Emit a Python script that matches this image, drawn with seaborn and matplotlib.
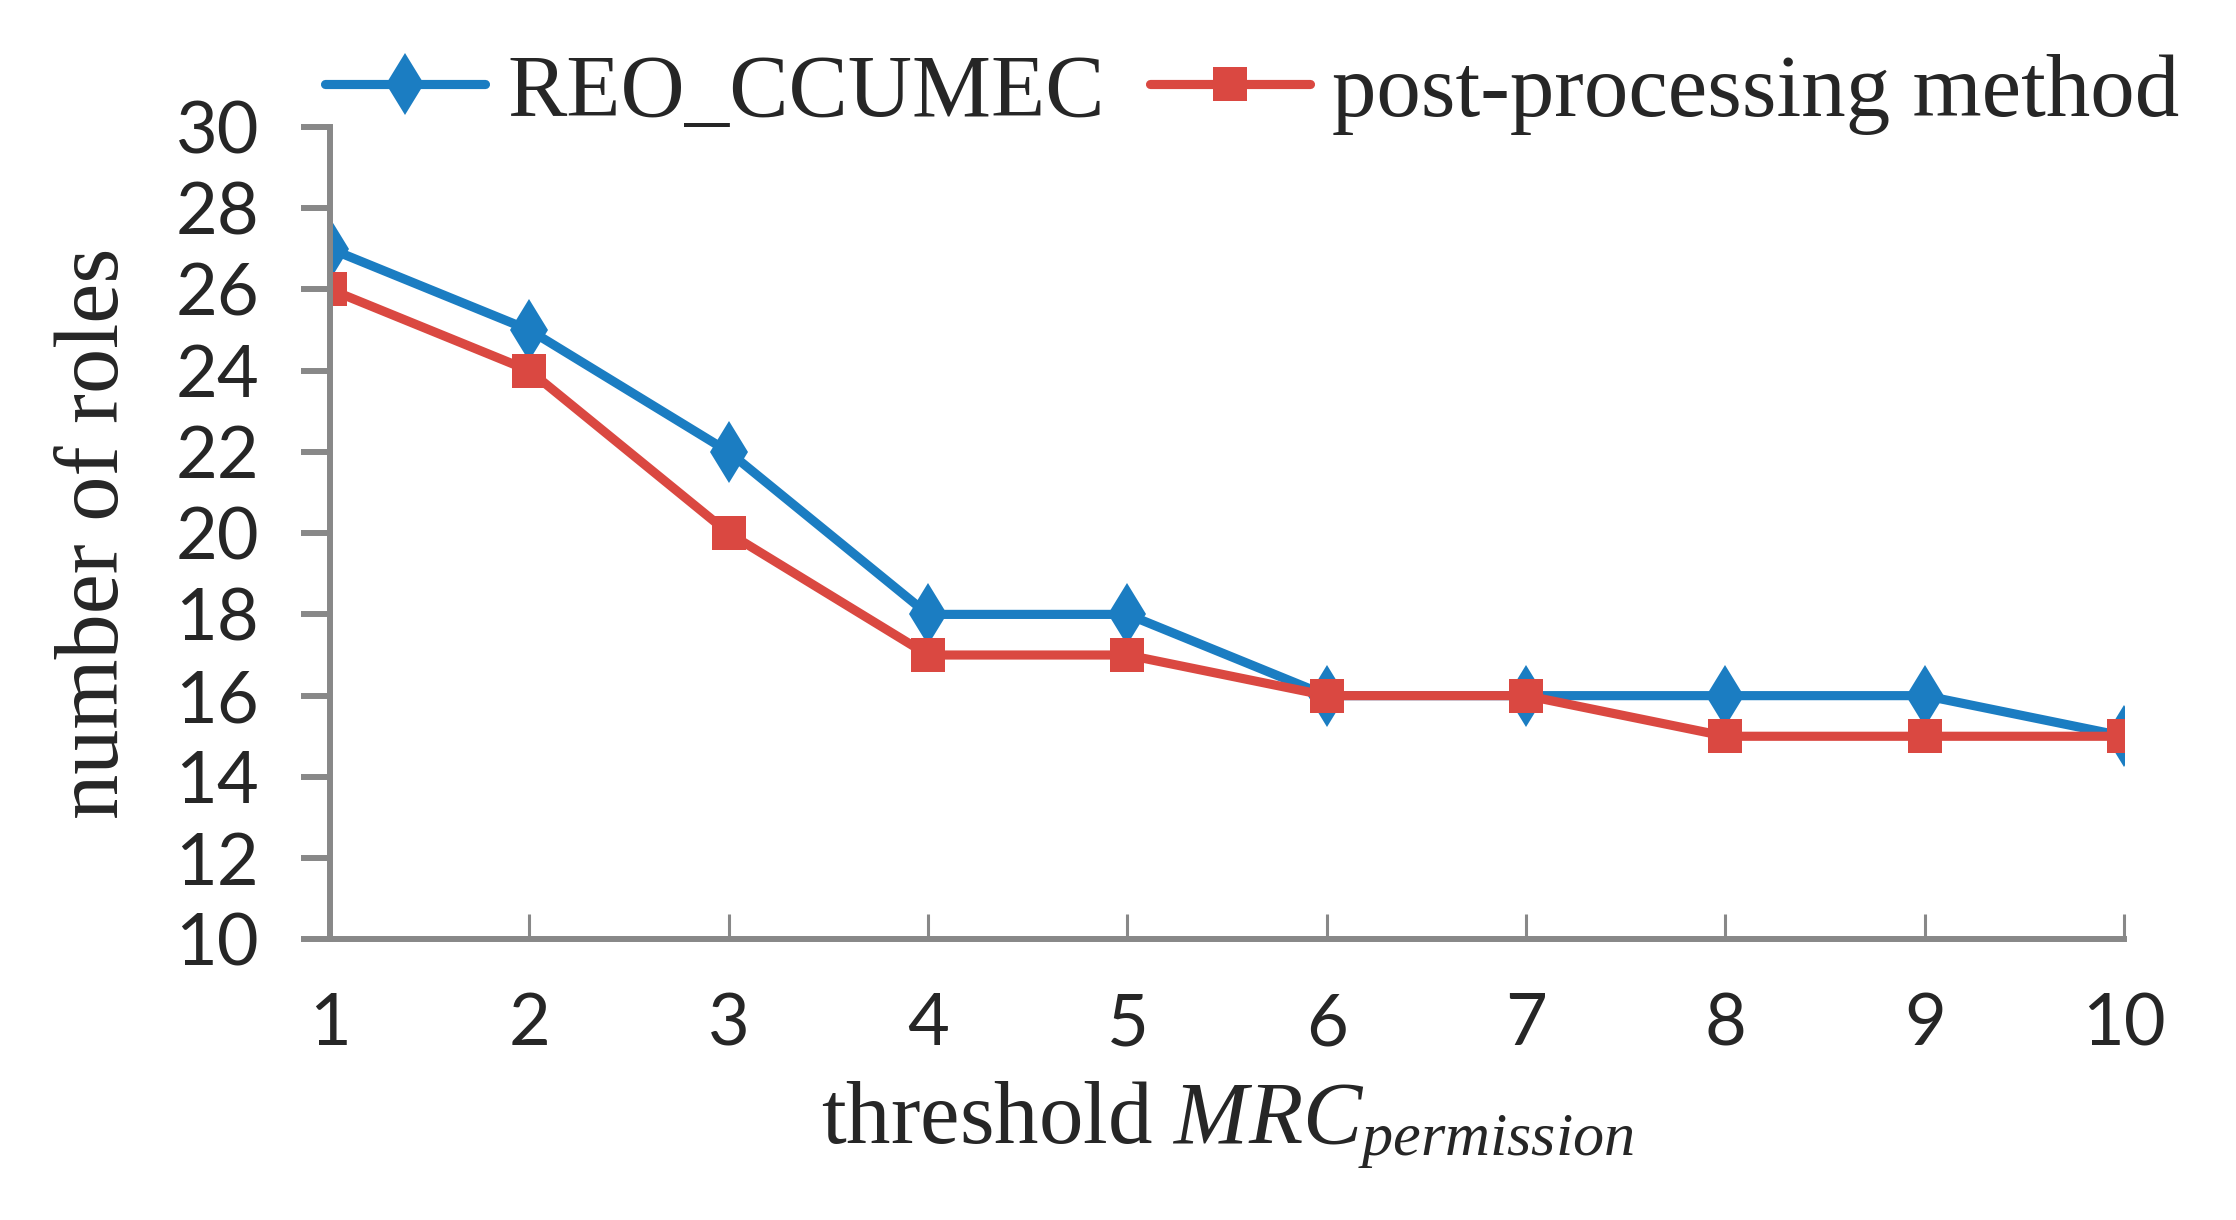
import matplotlib
matplotlib.use("Agg")
import matplotlib.pyplot as plt
import seaborn as sns
import pandas as pd

thresholds = [1, 2, 3, 4, 5, 6, 7, 8, 9, 10]
reo_ccumec = [27, 25, 22, 18, 18, 16, 16, 16, 16, 15]
post_processing = [26, 24, 20, 17, 17, 16, 16, 15, 15, 15]
series_names = ["REO_CCUMEC", "post-processing method"]
y_ticks = [10, 12, 14, 16, 18, 20, 22, 24, 26, 28, 30]

sns.set_theme(style="white")
plt.rcParams["mathtext.fontset"] = "custom"
plt.rcParams["mathtext.rm"] = "Liberation Serif"
plt.rcParams["mathtext.it"] = "Liberation Serif:italic"

df = pd.DataFrame({
    "x": thresholds * 2,
    "y": reo_ccumec + post_processing,
    "series": [series_names[0]] * len(thresholds) + [series_names[1]] * len(thresholds),
})

fig = plt.figure(figsize=(22.36, 12.2), dpi=100)
left, right, bottom, top = 0.1476, 0.950, 0.230, 0.896
ax = fig.add_axes([left, bottom, right - left, top - bottom])

blue = "#1B7DC2"
red = "#DA4841"
sns.lineplot(data=df, x="x", y="y", hue="series", style="series",
             palette={series_names[0]: blue, series_names[1]: red},
             markers={series_names[0]: "D", series_names[1]: "s"},
             dashes=False, linewidth=6.6, markersize=25, markeredgewidth=0,
             ax=ax, legend=True)
for line in ax.get_lines():
    if line.get_marker() == "D":
        line.set_marker("d")
        line.set_markersize(32)

ax.set_xlim(1, 10)
ax.set_ylim(10, 30)
ax.set_xticks(thresholds)
ax.set_yticks(y_ticks)

gray = "#888888"
for side in ["top", "right"]:
    ax.spines[side].set_visible(False)
for side in ["left", "bottom"]:
    ax.spines[side].set_color(gray)
    ax.spines[side].set_linewidth(4.3)

ax.tick_params(axis="y", direction="out", length=21, width=4.3, color=gray, pad=30,
               labelsize=52, left=True)
ax.tick_params(axis="x", direction="in", length=18, width=2.2, color=gray, pad=38,
               labelsize=52, bottom=True)
for lab in ax.get_xticklabels() + ax.get_yticklabels():
    lab.set_fontfamily("Lato")

ax.set_xlabel(r"threshold $\mathit{MRC}_{\mathit{permission}}$", fontsize=64,
              fontfamily="Liberation Serif", labelpad=16)
ax.set_ylabel("number of roles", fontsize=65, fontfamily="Liberation Serif", labelpad=28)

handles, labels = ax.get_legend_handles_labels()
ax.get_legend().remove()
for h in handles:
    h.set_linewidth(6.6)
fig.legend(handles, labels, loc="center", bbox_to_anchor=(0.56, 0.923), ncol=2,
           frameon=False, prop={"family": "Liberation Serif", "size": 64},
           handlelength=1.8, handletextpad=0.25, columnspacing=0.5, borderaxespad=0)

fig.savefig("out.png", dpi=100)
